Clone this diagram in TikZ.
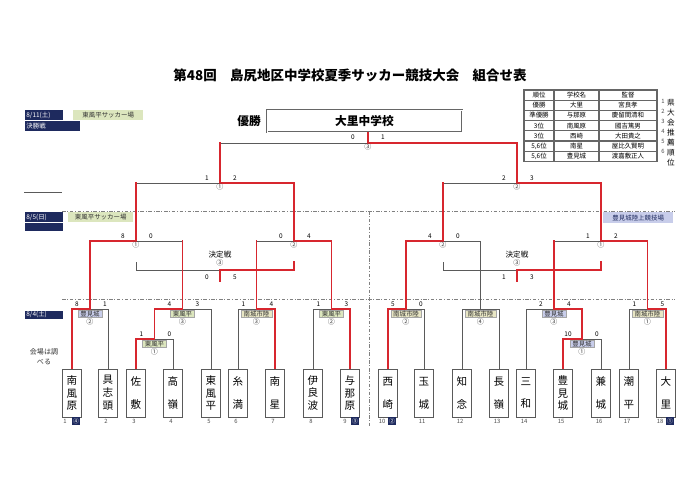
\documentclass[tikz,border=0pt]{standalone}
\usepackage{fontspec}
\setmainfont{Noto Sans CJK JP}
\usetikzlibrary{positioning,calc}

\definecolor{winred}{HTML}{D7262E}
\definecolor{linegray}{HTML}{5A5A5A}
\definecolor{navy}{HTML}{1E2A5E}
\definecolor{lblgreen}{HTML}{DCE6BE}
\definecolor{lblblue}{HTML}{C8CDEA}
\definecolor{lblkhaki}{HTML}{E8E6C4}

\tikzset{
  lose/.style={draw=linegray, line width=0.6pt},
  win/.style={draw=winred, line width=1.3pt, line cap=rect},
  dayline/.style={draw=gray, line width=0.5pt, dash pattern=on 3pt off 1.5pt on 0.7pt off 1.5pt},
  team/.style={draw=linegray, line width=0.7pt, fill=white, minimum width=0.57cm, minimum height=1.44cm, inner sep=0pt, align=center, font=\fontsize{9}{11}\selectfont},
  venue/.style={draw=gray!70, line width=0.3pt, inner xsep=2pt, inner ysep=0.5pt, font=\fontsize{5.5}{6}\selectfont, text=black!80},
  matchno/.style={inner sep=0.4pt, font=\fontsize{6}{6}\selectfont, text=black!75},
  score/.style={inner sep=0pt, font=\fontsize{5.5}{6}\selectfont},
  tno/.style={inner sep=0pt, font=\fontsize{5}{6}\selectfont, text=black!70},
  seed/.style={fill=navy, text=white, inner sep=0pt, minimum size=0.24cm, font=\fontsize{5}{6}\selectfont},
  datebox/.style={fill=navy, text=white, anchor=north west, inner xsep=1pt, inner ysep=0pt, align=left, font=\fontsize{5.5}{6}\selectfont},
  hallbox/.style={anchor=north west, inner sep=0pt, font=\fontsize{5.5}{6}\selectfont, text=black!80},
  tblline/.style={draw=gray!80!black, line width=0.9pt},
  tcell/.style={inner sep=0pt, font=\fontsize{5.5}{6}\selectfont},
}

\begin{document}
\begin{tikzpicture}[x=0.03cm, y=-0.03cm]
\useasboundingbox (0,0) rectangle (700,495);
\fill[white] (0,0) rectangle (700,495);

% title
\node[font=\bfseries\fontsize{11.5}{13}\selectfont] (title) at (350,75) {第48回\hspace{1em}島尻地区中学校夏季サッカー競技大会\hspace{1em}組合せ表};

% champion
\node[draw=gray!80!black, double, double distance=0.8pt, line width=0.5pt, minimum width=5.85cm, minimum height=0.66cm, font=\bfseries\fontsize{10}{12}\selectfont] (champ) at (364.5,121) {大里中学校};
\node[font=\bfseries\fontsize{10}{12}\selectfont] (yusho) at (249,121) {優勝};

% day labels
\node[datebox, text width=1.05cm, minimum height=0.3cm] (d811) at (25,110) {8/11(土)};
\node[datebox, text width=1.58cm, minimum height=0.3cm] (d811b) at (d811.south west) {決勝戦};
\node[hallbox, fill=lblgreen, minimum width=2.1cm, minimum height=0.3cm] (h811) at (73,110) {東風平サッカー場};
\draw[lose] (24,192) -- (62,192);
\node[datebox, text width=1.05cm, minimum height=0.3cm] (d85) at (25,212) {8/5(日)};
\node[datebox, text width=1.05cm, minimum height=0.25cm] (d85b) at (d85.south west) {};
\node[hallbox, fill=lblgreen, minimum width=1.95cm, minimum height=0.3cm] (h85) at (68,212) {東風平サッカー場};
\node[hallbox, fill=lblblue, text=navy, minimum width=2.1cm, minimum height=0.33cm] (h85r) at (603,212) {豊見城陸上競技場};
\node[datebox, text width=1.05cm, minimum height=0.22cm] (d84) at (25,311) {8/4(土)};
\node[font=\fontsize{6}{8.5}\selectfont, align=center, text=black!80] (memo) at (44,357) {会場は調\\べる};

% day separators
\draw[dayline] (62,211) -- (675,211);
\draw[dayline] (62,299) -- (675,299);
\draw[dayline] (369,211) -- (369,428);

% result table
\draw[tblline] (524,90) rectangle (657,161.4);
\draw[tblline] (524,100.2) -- (657,100.2);
\draw[tblline] (524,110.4) -- (657,110.4);
\draw[tblline] (524,120.6) -- (657,120.6);
\draw[tblline] (524,130.8) -- (657,130.8);
\draw[tblline] (524,141) -- (657,141);
\draw[tblline] (524,151.2) -- (657,151.2);
\draw[tblline] (554,90) -- (554,161.4);
\draw[tblline] (599,90) -- (599,161.4);
\node[tcell] (c01) at (539,95.1) {順位};
\node[tcell] (c02) at (576.5,95.1) {学校名};
\node[tcell] (c03) at (628,95.1) {監督};
\node[tcell] (c11) at (539,105.3) {優勝};
\node[tcell] (c12) at (576.5,105.3) {大里};
\node[tcell] (c13) at (628,105.3) {宮良孝};
\node[tcell] (c21) at (539,115.5) {準優勝};
\node[tcell] (c22) at (576.5,115.5) {与那原};
\node[tcell] (c23) at (628,115.5) {慶留間清和};
\node[tcell] (c31) at (539,125.7) {3位};
\node[tcell] (c32) at (576.5,125.7) {南風原};
\node[tcell] (c33) at (628,125.7) {國吉篤男};
\node[tcell] (c41) at (539,135.9) {3位};
\node[tcell] (c42) at (576.5,135.9) {西崎};
\node[tcell] (c43) at (628,135.9) {大田貴之};
\node[tcell] (c51) at (539,146.1) {5,6位};
\node[tcell] (c52) at (576.5,146.1) {南星};
\node[tcell] (c53) at (628,146.1) {屋比久賢明};
\node[tcell] (c61) at (539,156.3) {5,6位};
\node[tcell] (c62) at (576.5,156.3) {豊見城};
\node[tcell] (c63) at (628,156.3) {渡嘉敷正人};
\node[font=\fontsize{5}{8.5}\selectfont, align=center, anchor=north, inner sep=0pt, text=black!70] (rankno) at (663,99) {1\\2\\3\\4\\5\\6};
\node[font=\fontsize{6.5}{8.5}\selectfont, align=center, anchor=north, inner sep=0pt] (kenlbl) at (671,99) {県\\大\\会\\推\\薦\\順\\位};

% teams
\node[team] (t1) at (72,393) {南\\風\\原};
\node[team] (t2) at (108,393) {具\\志\\頭};
\node[team] (t3) at (136,393) {佐\\[8.5pt]敷};
\node[team] (t4) at (173,393) {高\\[8.5pt]嶺};
\node[team] (t5) at (211,393) {東\\風\\平};
\node[team] (t6) at (238,393) {糸\\[8.5pt]満};
\node[team] (t7) at (275,393) {南\\[8.5pt]星};
\node[team] (t8) at (313,393) {伊\\良\\波};
\node[team] (t9) at (350,393) {与\\那\\原};
\node[team] (t10) at (388,393) {西\\[8.5pt]崎};
\node[team] (t11) at (424,393) {玉\\[8.5pt]城};
\node[team] (t12) at (462,393) {知\\[8.5pt]念};
\node[team] (t13) at (499,393) {長\\[8.5pt]嶺};
\node[team] (t14) at (526,393) {三\\[8.5pt]和};
\node[team] (t15) at (563,393) {豊\\見\\城};
\node[team] (t16) at (601,393) {兼\\[8.5pt]城};
\node[team] (t17) at (629,393) {潮\\[8.5pt]平};
\node[team] (t18) at (666,393) {大\\[8.5pt]里};

% team numbers
\node[tno] (n1) at ($(t1.south)+(-7,4)$) {1};
\node[seed] (b1) at ($(t1.south)+(4,4)$) {④};
\node[tno] (n2) at ($(t2.south)+(-2,4)$) {2};
\node[tno] (n3) at ($(t3.south)+(-2,4)$) {3};
\node[tno] (n4) at ($(t4.south)+(-2,4)$) {4};
\node[tno] (n5) at ($(t5.south)+(-2,4)$) {5};
\node[tno] (n6) at ($(t6.south)+(-2,4)$) {6};
\node[tno] (n7) at ($(t7.south)+(-2,4)$) {7};
\node[tno] (n8) at ($(t8.south)+(-2,4)$) {8};
\node[tno] (n9) at ($(t9.south)+(-5,4)$) {9};
\node[seed] (b9) at ($(t9.south)+(5,4)$) {③};
\node[tno] (n10) at ($(t10.south)+(-6,4)$) {10};
\node[seed] (b10) at ($(t10.south)+(4,4)$) {②};
\node[tno] (n11) at ($(t11.south)+(-2,4)$) {11};
\node[tno] (n12) at ($(t12.south)+(-2,4)$) {12};
\node[tno] (n13) at ($(t13.south)+(-2,4)$) {13};
\node[tno] (n14) at ($(t14.south)+(-2,4)$) {14};
\node[tno] (n15) at ($(t15.south)+(-2,4)$) {15};
\node[tno] (n16) at ($(t16.south)+(-2,4)$) {16};
\node[tno] (n17) at ($(t17.south)+(-2,4)$) {17};
\node[tno] (n18) at ($(t18.south)+(-6,4)$) {18};
\node[seed] (b18) at ($(t18.south)+(4,4)$) {①};

% match points
\coordinate (mA) at (90,309);
\coordinate (mB) at (154.5,339);
\coordinate (mC) at (182.5,309);
\coordinate (mD) at (256.5,309);
\coordinate (mE) at (331.5,309);
\coordinate (mF) at (406,309);
\coordinate (mG) at (480.5,309);
\coordinate (mH) at (554,309);
\coordinate (mI) at (582,339);
\coordinate (mJ) at (647.5,309);
\coordinate (q1) at (136,241);
\coordinate (q2) at (294,241);
\coordinate (q3) at (443,241);
\coordinate (q4) at (601,241);
\coordinate (s1) at (220,183);
\coordinate (s2) at (517,183);
\coordinate (f) at (368,143);
\coordinate (k1) at (220,270);
\coordinate (k1l) at (136,262);
\coordinate (k1r) at (294,262);
\coordinate (k1d) at (220,281);
\coordinate (k2) at (517,270);
\coordinate (k2l) at (443,262);
\coordinate (k2r) at (601,262);
\coordinate (k2d) at (517,281);

% venues of 8/4
\node[venue, fill=lblblue, below=1pt of mA] (vA) {豊見城};
\node[matchno, below=0pt of vA] (cA) {②};
\node[venue, fill=lblgreen, below=1pt of mB] (vB) {東風平};
\node[matchno, below=0pt of vB] (cB) {①};
\node[venue, fill=lblgreen, below=1pt of mC] (vC) {東風平};
\node[matchno, below=0pt of vC] (cC) {③};
\node[venue, fill=lblkhaki, below=1pt of mD] (vD) {南城市陸};
\node[matchno, below=0pt of vD] (cD) {③};
\node[venue, fill=lblgreen, below=1pt of mE] (vE) {東風平};
\node[matchno, below=0pt of vE] (cE) {②};
\node[venue, fill=lblkhaki, below=1pt of mF] (vF) {南城市陸};
\node[matchno, below=0pt of vF] (cF) {②};
\node[venue, fill=lblkhaki, below=1pt of mG] (vG) {南城市陸};
\node[matchno, below=0pt of vG] (cG) {④};
\node[venue, fill=lblblue, below=1pt of mH] (vH) {豊見城};
\node[matchno, below=0pt of vH] (cH) {③};
\node[venue, fill=lblblue, below=1pt of mI] (vI) {豊見城};
\node[matchno, below=0pt of vI] (cI) {①};
\node[venue, fill=lblkhaki, below=1pt of mJ] (vJ) {南城市陸};
\node[matchno, below=0pt of vJ] (cJ) {①};

% lost legs
\draw[lose] (t2.north) |- (mA);
\draw[lose] (t4.north) |- (mB);
\draw[lose] (t5.north) |- (mC);
\draw[lose] (t6.north) |- (mD);
\draw[lose] (t8.north) |- (mE);
\draw[lose] (t11.north) |- (mF);
\draw[lose] (t12.north) |- (mG);
\draw[lose] (t13.north) |- (mG);
\draw[lose] (t14.north) |- (mH);
\draw[lose] (t16.north) |- (mI);
\draw[lose] (t17.north) |- (mJ);
\draw[lose] (mC |- q1) -- (q1);
\draw[lose] (mD |- q2) -- (q2);
\draw[lose] (mG) |- (q3);
\draw[lose] (mH |- q4) -- (q4);
\draw[lose] (q1 |- s1) -- (s1);
\draw[lose] (q3 |- s2) -- (s2);
\draw[lose] (s1 |- f) -- (f);
\draw[lose] (k1l) |- (k1);
\draw[lose] (k2l) |- (k2);

% winning legs
\draw[win] (t1.north) |- (mA);
\draw[win] (t3.north) |- (mB);
\draw[win] (mB) |- (mC);
\draw[win] (t7.north) |- (mD);
\draw[win] (t9.north) |- (mE);
\draw[win] (t10.north) |- (mF);
\draw[win] (t15.north) |- (mI);
\draw[win] (mI) |- (mH);
\draw[win] (t18.north) |- (mJ);
\draw[win] (mA) |- (q1);
\draw[win] (mC) -- (mC |- q1);
\draw[win] (mD) -- (mD |- q2);
\draw[win] (mE) |- (q2);
\draw[win] (mF) |- (q3);
\draw[win] (mH) -- (mH |- q4);
\draw[win] (mJ) |- (q4);
\draw[win] (q1) -- (q1 |- s1);
\draw[win] (q2) |- (s1);
\draw[win] (q3) -- (q3 |- s2);
\draw[win] (q4) |- (s2);
\draw[win] (s1) -- (s1 |- f);
\draw[win] (s2) |- (f);
\draw[win] (f) -- (f |- champ.south);
\draw[win] (k1r) |- (k1);
\draw[win] (k1) -- (k1d);
\draw[win] (k2r) |- (k2);
\draw[win] (k2) -- (k2d);

% match numbers
\node[matchno, below=0pt of q1] (cq1) {①};
\node[matchno, below=0pt of q2] (cq2) {②};
\node[matchno, below=0pt of q3] (cq3) {②};
\node[matchno, below=0pt of q4] (cq4) {①};
\node[matchno, below=0pt of s1] (cs1) {①};
\node[matchno, below=0pt of s2] (cs2) {②};
\node[matchno, below=0pt of f] (cf) {③};
\node[font=\fontsize{6.5}{7}\selectfont, inner sep=0.5pt] (kt1) at (220,255) {決定戦};
\node[matchno, below=0pt of kt1] (ck1) {③};
\node[font=\fontsize{6.5}{7}\selectfont, inner sep=0.5pt] (kt2) at (517,255) {決定戦};
\node[matchno, below=0pt of kt2] (ck2) {③};

% scores
\node[score] (sA1) at ($(mA)+(-13,-5)$) {8};
\node[score] (sA2) at ($(mA)+(15,-5)$) {1};
\node[score] (sB1) at ($(mB)+(-13,-5)$) {1};
\node[score] (sB2) at ($(mB)+(15,-5)$) {0};
\node[score] (sC1) at ($(mC)+(-13,-5)$) {4};
\node[score] (sC2) at ($(mC)+(15,-5)$) {3};
\node[score] (sD1) at ($(mD)+(-13,-5)$) {1};
\node[score] (sD2) at ($(mD)+(15,-5)$) {4};
\node[score] (sE1) at ($(mE)+(-13,-5)$) {1};
\node[score] (sE2) at ($(mE)+(15,-5)$) {3};
\node[score] (sF1) at ($(mF)+(-13,-5)$) {5};
\node[score] (sF2) at ($(mF)+(15,-5)$) {0};
\node[score] (sH1) at ($(mH)+(-13,-5)$) {2};
\node[score] (sH2) at ($(mH)+(15,-5)$) {4};
\node[score] (sI1) at ($(mI)+(-14,-5)$) {10};
\node[score] (sI2) at ($(mI)+(15,-5)$) {0};
\node[score] (sJ1) at ($(mJ)+(-13,-5)$) {1};
\node[score] (sJ2) at ($(mJ)+(15,-5)$) {5};
\node[score] (sq11) at ($(q1)+(-13,-5)$) {8};
\node[score] (sq12) at ($(q1)+(15,-5)$) {0};
\node[score] (sq21) at ($(q2)+(-13,-5)$) {0};
\node[score] (sq22) at ($(q2)+(15,-5)$) {4};
\node[score] (sq31) at ($(q3)+(-13,-5)$) {4};
\node[score] (sq32) at ($(q3)+(15,-5)$) {0};
\node[score] (sq41) at ($(q4)+(-13,-5)$) {1};
\node[score] (sq42) at ($(q4)+(15,-5)$) {2};
\node[score] (ss11) at ($(s1)+(-13,-5)$) {1};
\node[score] (ss12) at ($(s1)+(15,-5)$) {2};
\node[score] (ss21) at ($(s2)+(-13,-5)$) {2};
\node[score] (ss22) at ($(s2)+(15,-5)$) {3};
\node[score] (sf1) at ($(f)+(-15,-6)$) {0};
\node[score] (sf2) at ($(f)+(15,-6)$) {1};
\node[score] (sk11) at ($(k1)+(-13,7)$) {0};
\node[score] (sk12) at ($(k1)+(15,7)$) {5};
\node[score] (sk21) at ($(k2)+(-13,7)$) {1};
\node[score] (sk22) at ($(k2)+(15,7)$) {3};
\end{tikzpicture}
\end{document}
